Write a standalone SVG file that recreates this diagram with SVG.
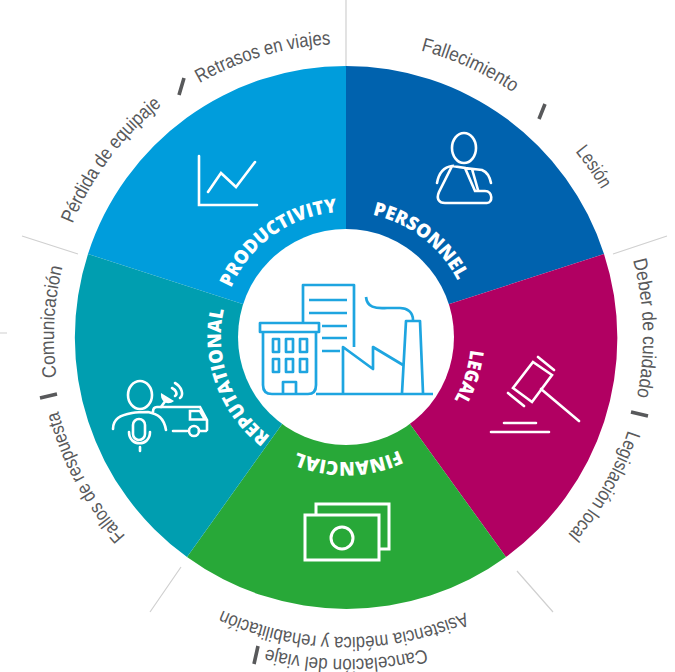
<svg xmlns="http://www.w3.org/2000/svg" width="675" height="672" viewBox="0 0 675 672">
<style>
.lbl{font-family:"Liberation Sans",Arial,sans-serif;font-size:19.5px;fill:#58595b;text-anchor:middle}
.cat{font-family:"Open Sans","Liberation Sans",sans-serif;font-weight:800;font-size:19px;fill:#fff;text-anchor:middle}
.ic{fill:none;stroke:#fff;stroke-width:2.6;stroke-linejoin:miter;stroke-linecap:round}
.bl{fill:none;stroke:#1ea5e0;stroke-width:2.7;stroke-linejoin:round}
.sep{stroke:#d0d0d0;stroke-width:1.2;fill:none}
.bar{stroke:#58595b;stroke-width:3.6;fill:none}
</style>
<defs>
<path id="c1" d="M221.6 349A125 125 0 0 1 397.9 223.2"/>
<path id="c2" d="M298.6 221.4A125 125 0 0 1 469.9 353.8"/>
<path id="c3" d="M438.9 253.4A125 125 0 0 1 372 459.3"/>
<path id="c4" d="M455.4 397.6A125 125 0 0 1 238.9 401.4"/>
<path id="c5" d="M324.3 460.1A125 125 0 0 1 250.2 256.6"/>
<path id="l1" d="M101.7 175.3A293 293 0 0 1 462.8 68.3"/>
<path id="l2" d="M50.4 352.5A296 296 0 0 1 279.4 48.6"/>
<path id="l3" d="M266.9 51.7A296 296 0 0 1 613.2 209.4"/>
<path id="l4" d="M424.8 52.7A295 295 0 0 1 639.6 365.3"/>
<path id="l5" d="M567.9 139.5A297 297 0 0 1 579.1 521.1"/>
<path id="l6" d="M638.5 285.4A297 297 0 0 1 447.6 616.1"/>
<path id="l7" d="M536.9 568.6A300 300 0 0 1 151.2 565.1"/>
<path id="l8" d="M507 615.9A322 322 0 0 1 185 615.9"/>
<path id="l9" d="M112.7 512.8A292 292 0 0 1 132.4 137.9"/>
<path id="l10" d="M236.1 612.9A297 297 0 0 1 55.2 276.7"/>
</defs>
<g id="connectors">
<path class="sep" d="M346 0V66M667 236L613 254M517 571L553 612M181 567L150 612M22 236L78 254M0 333H7"/>
</g>
<g id="productivity">
<path d="M346 66A271 271 0 0 0 88 254L255 308A95 95 0 0 1 346 239Z" fill="#009ddc"/>
<path class="ic" d="M199 156V205H257M208 192L221 173L236 187L255 162"/>
<text class="cat"><textPath href="#c1" startOffset="50%" textLength="137" lengthAdjust="spacingAndGlyphs">PRODUCTIVITY</textPath></text>
</g>
<g id="personnel">
<path d="M346 66A271 271 0 0 1 604 254L437 308A95 95 0 0 0 346 239Z" fill="#0062ae"/>
<g class="ic"><ellipse cx="464" cy="148" rx="12" ry="15"/><path d="M437 183C439 172 444 167 452 166L439 192C436 199 439 203 445 203H487C493 203 493 191 485 191H475L465 168L452 166M465 168L482 170C487 172 490 178 491 183M472 169L478 190"/></g>
<text class="cat"><textPath href="#c2" startOffset="50%" textLength="111" lengthAdjust="spacingAndGlyphs">PERSONNEL</textPath></text>
</g>
<g id="legal">
<path d="M604 254A271 271 0 0 1 506 557L402 413A95 95 0 0 0 437 308Z" fill="#b10062"/>
<g class="ic"><path d="M533 362L552 375L532 402L513 388ZM538 357L554 370M508 393L524 406M541 389L579 421M504 423H536M491 432H549"/></g>
<text class="cat"><textPath href="#c3" startOffset="50%" textLength="53" lengthAdjust="spacingAndGlyphs">LEGAL</textPath></text>
</g>
<g id="financial">
<path d="M506 557A271 271 0 0 1 187 557L290 413A95 95 0 0 0 402 413Z" fill="#28a838"/>
<g class="ic" style="stroke-width:3"><path d="M305 515H379V560H305ZM316 515V504H389V549H379"/><circle cx="342" cy="538" r="11"/></g>
<text class="cat"><textPath href="#c4" startOffset="50%" textLength="105" lengthAdjust="spacingAndGlyphs">FINANCIAL</textPath></text>
</g>
<g id="reputational">
<path d="M88 254A271 271 0 0 0 187 557L290 413A95 95 0 0 1 255 308Z" fill="#009eb0"/>
<g class="ic"><ellipse cx="140" cy="395" rx="12" ry="14"/><path d="M113 429C113 419 120 415 132 413C138 412 143 412 148 412C158 414 164 418 166 430M133 425a6 6 0 0 1 12 0v9a6 6 0 0 1-12 0ZM129 432C129 447 150 447 150 432M140 447V451M153 412C153 409 154 407 157 407H200L207 420V430M173 431H187M199 431H206M190 411H200L205 419.5H190Z"/><circle cx="194" cy="431" r="5"/><path d="M175 383C182 387 184 395 180 398M172 388C176 390 178 394 175 396M161 407L166 400"/></g>
<path d="M161 393C160 402 168 406 174 401Z" fill="#fff"/>
<text class="cat"><textPath href="#c5" startOffset="50%" textLength="143" lengthAdjust="spacingAndGlyphs">REPUTATIONAL</textPath></text>
</g>
<g id="center">
<circle cx="346" cy="337" r="108" fill="#fff"/>
<path class="bl" d="M303 322V285H354V347M309 300H347M309 313H347M322 326H347M322 338H347M322 351H340M260 323H319V332H260ZM263 332V385Q263 394 272 394H308Q316 394 316 385V332M283 394V382H296V394M273 339H279V352H273ZM286 339H293V352H286ZM300 339H307V352H300ZM273 359H279V372H273ZM286 359H293V372H286ZM300 359H307V372H300ZM316 394H433M343 394V347L373 369V347L403 365M402 393L406 321H420L423 393M366 297C367 307 375 309 387 308H400C407 308 413 312 413 320"/>
</g>
<g id="labels">
<path class="bar" d="M184 78L179 95M545 104L539 119M631 412L648 416M40 398L57 394M258 646L254 664"/>
<text class="lbl"><textPath href="#l1" startOffset="50%" textLength="138" lengthAdjust="spacingAndGlyphs">Retrasos en viajes</textPath></text>
<text class="lbl"><textPath href="#l2" startOffset="50%" textLength="150" lengthAdjust="spacingAndGlyphs">Pérdida de equipaje</textPath></text>
<text class="lbl"><textPath href="#l3" startOffset="50%" textLength="102" lengthAdjust="spacingAndGlyphs">Fallecimiento</textPath></text>
<text class="lbl"><textPath href="#l4" startOffset="50%" textLength="46" lengthAdjust="spacingAndGlyphs">Lesión</textPath></text>
<text class="lbl"><textPath href="#l5" startOffset="50%" textLength="138" lengthAdjust="spacingAndGlyphs">Deber de cuidado</textPath></text>
<text class="lbl"><textPath href="#l6" startOffset="50%" textLength="121" lengthAdjust="spacingAndGlyphs">Legislación local</textPath></text>
<text class="lbl"><textPath href="#l7" startOffset="50%" textLength="250" lengthAdjust="spacingAndGlyphs">Asistencia médica y rehabilitación</textPath></text>
<text class="lbl"><textPath href="#l8" startOffset="50%" textLength="161" lengthAdjust="spacingAndGlyphs">Cancelación del viaje</textPath></text>
<text class="lbl"><textPath href="#l9" startOffset="50%" textLength="111" lengthAdjust="spacingAndGlyphs">Comunicación</textPath></text>
<text class="lbl"><textPath href="#l10" startOffset="50%" textLength="143" lengthAdjust="spacingAndGlyphs">Fallos de respuesta</textPath></text>
</g>
</svg>
